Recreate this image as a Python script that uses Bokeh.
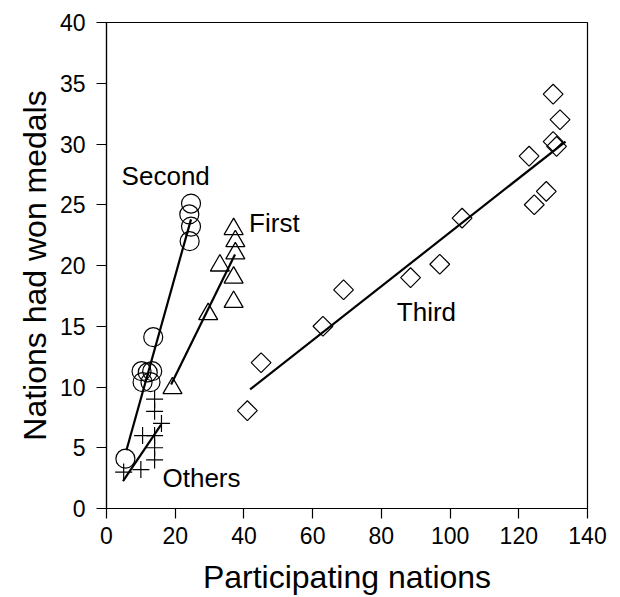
import math
from bokeh.plotting import figure
from bokeh.models import FixedTicker, ColumnDataSource
from bokeh.core.properties import value
from bokeh.embed import file_html
from bokeh.resources import INLINE

# ---- data ----
first_x = [37, 37.5, 37.5, 33, 37, 37, 29.6, 19.2]
first_y = [23, 22, 21, 20, 19, 17, 16, 9.9]

second_x = [24.6, 24.1, 24.6, 24.2, 13.6, 10.2, 12.0, 13.3, 10.5, 12.8, 5.5]
second_y = [25.1, 24.2, 23.2, 22.0, 14.1, 11.3, 11.2, 11.3, 10.4, 10.4, 4.1]

third_x = [41, 45, 63, 69, 88.5, 97, 103.5, 123, 124.5, 128, 130, 131, 132, 130]
third_y = [8.05, 12.0, 15.0, 18.0, 19.0, 20.1, 23.9, 29.0, 25.0, 26.1, 30.2, 29.8, 32.0, 34.1]

others_x = [14, 14, 16, 10.5, 14, 14, 14, 5, 10]
others_y = [9, 8, 7, 6, 6, 5, 4, 3, 3.2]

# regression lines (end points)
fit_first_x = [18.8, 37.4]
fit_first_y = [10.2, 20.9]
fit_second_x = [5.8, 24.6]
fit_second_y = [4.8, 23.8]
fit_third_x = [41.8, 133.6]
fit_third_y = [9.8, 30.2]
fit_others_x = [4.8, 15.9]
fit_others_y = [2.25, 6.9]

label_text = ["Second", "First", "Third", "Others"]
label_x = [4.4, 41.5, 84.5, 16.3]
label_y = [27.4, 23.5, 16.2, 2.5]

x_ticks = [0, 20, 40, 60, 80, 100, 120, 140]
y_ticks = [0, 5, 10, 15, 20, 25, 30, 35, 40]

FONT = "Liberation Sans"

p = figure(width=614, height=597, x_range=(0, 140), y_range=(0, 40),
           output_backend="svg", toolbar_location=None,
           min_border_left=106, min_border_right=27,
           min_border_top=22, min_border_bottom=88)

p.grid.visible = False
p.outline_line_color = "black"
p.outline_line_width = 1.2
p.background_fill_color = "white"
p.border_fill_color = "white"

for ax in (p.xaxis[0], p.yaxis[0]):
    ax.axis_line_color = "black"
    ax.axis_line_width = 1.2
    ax.major_tick_out = 10
    ax.major_tick_in = 0
    ax.major_tick_line_width = 1.2
    ax.minor_tick_out = 0
    ax.minor_tick_in = 0
    ax.major_label_text_font = FONT
    ax.major_label_text_font_size = "23px"
    ax.major_label_text_color = "black"
    ax.axis_label_text_font = FONT
    ax.axis_label_text_font_size = "32px"
    ax.axis_label_text_font_style = "normal"
    ax.axis_label_text_color = "black"

p.xaxis.ticker = FixedTicker(ticks=x_ticks)
p.yaxis.ticker = FixedTicker(ticks=y_ticks)
p.xaxis.axis_label = "Participating nations"
p.yaxis.axis_label = "Nations had won medals"
p.xaxis.major_label_standoff = 8
p.yaxis.major_label_standoff = 11
p.xaxis.axis_label_standoff = 12
p.yaxis.axis_label_standoff = 4

# fit lines
for fx, fy in ((fit_first_x, fit_first_y), (fit_second_x, fit_second_y),
               (fit_third_x, fit_third_y), (fit_others_x, fit_others_y)):
    p.line(fx, fy, line_color="black", line_width=2.2)

# markers
p.scatter(second_x, second_y, marker="circle", size=19, fill_color=None,
          line_color="black", line_width=1.2)
p.scatter(first_x, first_y, marker="triangle", size=19, fill_color=None,
          line_color="black", line_width=1.3)
p.scatter(third_x, third_y, marker="square", size=14, angle=math.pi / 4,
          fill_color=None, line_color="black", line_width=1.2)
p.scatter(others_x, others_y, marker="cross", size=17, fill_color=None,
          line_color="black", line_width=1.2)

# labels
src = ColumnDataSource(dict(x=label_x, y=label_y, t=label_text))
p.text(x="x", y="y", text="t", source=src, text_font=value(FONT),
       text_font_size="26px", text_baseline="middle", text_align="left",
       text_color="black")

open("out.html", "w").write(file_html(p, INLINE))
